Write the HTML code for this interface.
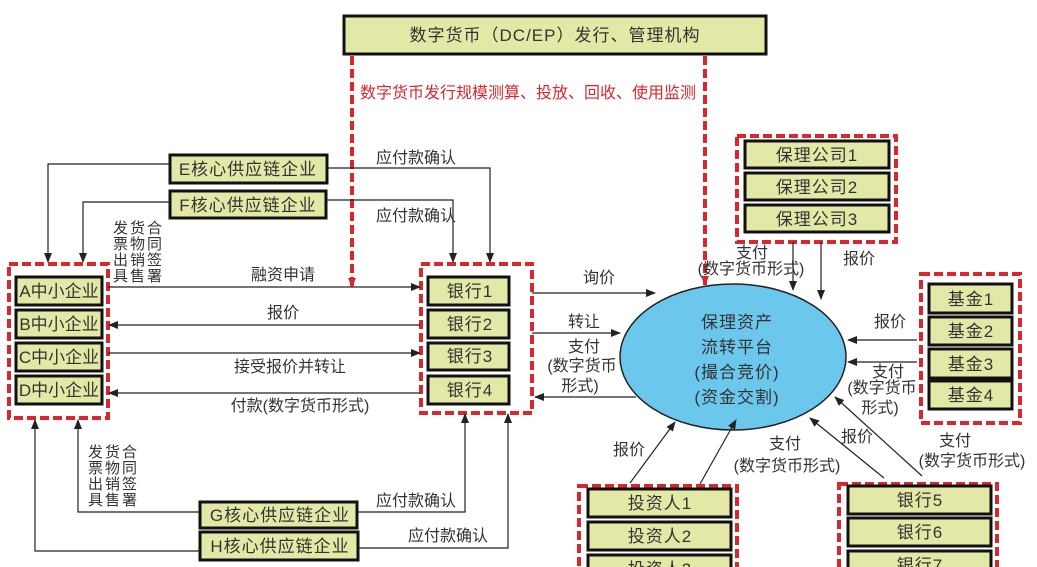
<!DOCTYPE html>
<html><head><meta charset="utf-8"><style>
html,body{margin:0;padding:0;background:#fff;}
svg{display:block;}
text{font-family:"Liberation Sans","Noto Sans CJK SC",sans-serif;font-size:16px;fill:#333;}
.t{font-size:17px;letter-spacing:1px;}
.s{font-size:17px;letter-spacing:0px;}
.v{font-size:15px;letter-spacing:2px;}
.b{fill:#e4e8a6;stroke:#111;stroke-width:3;}
.g{fill:none;stroke:#d8282e;stroke-width:4;stroke-dasharray:9 4;}
.l{fill:none;stroke:#222;stroke-width:1.2;}
</style></head><body>
<svg width="1037" height="567" viewBox="0 0 1037 567" xmlns="http://www.w3.org/2000/svg">
<defs>
<marker id="a" markerWidth="10" markerHeight="8" refX="9" refY="4" orient="auto" markerUnits="userSpaceOnUse"><path d="M0,0 L10,4 L0,8 z" fill="#222"/></marker>
<marker id="r" markerWidth="10" markerHeight="8" refX="9" refY="4" orient="auto" markerUnits="userSpaceOnUse"><path d="M0,0 L10,4 L0,8 z" fill="#d8282e"/></marker>
</defs>

<rect class="b" x="344" y="16" width="422" height="38"/>
<text x="555" y="41" text-anchor="middle" class="t">数字货币（DC/EP）发行、管理机构</text>
<line x1="352" y1="56" x2="352" y2="287" class="g" marker-end="url(#r)"/>
<line x1="705" y1="56" x2="705" y2="285" class="g" marker-end="url(#r)"/>
<rect x="358" y="80" width="342" height="22" fill="#fff"/>
<text x="528" y="98" text-anchor="middle" style="fill:#d8282e" font-size="16">数字货币发行规模测算、投放、回收、使用监测</text>

<rect class="b" x="170" y="155" width="157" height="28"/>
<text x="248" y="175" text-anchor="middle" class="t">E核心供应链企业</text>
<rect class="b" x="170" y="191" width="156" height="27"/>
<text x="248" y="211" text-anchor="middle" class="t">F核心供应链企业</text>
<polyline class="l" points="170,164 48,164 48,262" marker-end="url(#a)"/>
<polyline class="l" points="170,202 83,202 83,262" marker-end="url(#a)"/>
<polyline class="l" points="327,168 490,168 490,262" marker-end="url(#a)"/>
<polyline class="l" points="326,200 453,200 453,262" marker-end="url(#a)"/>
<text x="416" y="163" text-anchor="middle">应付款确认</text>
<text x="416" y="221" text-anchor="middle">应付款确认</text>
<text x="113" y="233" class="v">发货合</text>
<text x="113" y="249" class="v">票物同</text>
<text x="113" y="265" class="v">出销签</text>
<text x="113" y="281" class="v">具售署</text>

<rect class="g" x="9" y="264" width="99" height="154"/>
<rect class="b" x="16" y="277" width="86" height="28"/><text x="59" y="297" text-anchor="middle" class="s">A中小企业</text>
<rect class="b" x="16" y="310" width="86" height="28"/><text x="59" y="330" text-anchor="middle" class="s">B中小企业</text>
<rect class="b" x="16" y="343" width="86" height="28"/><text x="59" y="363" text-anchor="middle" class="s">C中小企业</text>
<rect class="b" x="16" y="376" width="86" height="28"/><text x="59" y="396" text-anchor="middle" class="s">D中小企业</text>

<rect class="g" x="421" y="264" width="111" height="149"/>
<rect class="b" x="428" y="277" width="81" height="28"/><text x="470" y="297" text-anchor="middle" class="t">银行1</text>
<rect class="b" x="428" y="310" width="81" height="28"/><text x="470" y="330" text-anchor="middle" class="t">银行2</text>
<rect class="b" x="428" y="343" width="81" height="27"/><text x="470" y="362" text-anchor="middle" class="t">银行3</text>
<rect class="b" x="428" y="376" width="81" height="28"/><text x="470" y="396" text-anchor="middle" class="t">银行4</text>

<line class="l" x1="108" y1="287" x2="420" y2="287" marker-end="url(#a)"/>
<text x="283" y="280" text-anchor="middle">融资申请</text>
<line class="l" x1="420" y1="325" x2="109" y2="325" marker-end="url(#a)"/>
<text x="283" y="318" text-anchor="middle">报价</text>
<line class="l" x1="108" y1="353" x2="420" y2="353" marker-end="url(#a)"/>
<text x="290" y="372" text-anchor="middle">接受报价并转让</text>
<line class="l" x1="420" y1="393" x2="109" y2="393" marker-end="url(#a)"/>
<text x="300" y="411" text-anchor="middle">付款(数字货币形式)</text>

<rect class="b" x="200" y="502" width="157" height="26"/>
<text x="280" y="521" text-anchor="middle" class="t">G核心供应链企业</text>
<rect class="b" x="200" y="532" width="158" height="28"/>
<text x="280" y="552" text-anchor="middle" class="t">H核心供应链企业</text>
<polyline class="l" points="200,512 78,512 78,420" marker-end="url(#a)"/>
<polyline class="l" points="200,551 35,551 35,420" marker-end="url(#a)"/>
<polyline class="l" points="357,512 465,512 465,414" marker-end="url(#a)"/>
<polyline class="l" points="358,548 508,548 508,414" marker-end="url(#a)"/>
<text x="416" y="506" text-anchor="middle">应付款确认</text>
<text x="448" y="541" text-anchor="middle">应付款确认</text>
<text x="88" y="457" class="v">发货合</text>
<text x="88" y="473" class="v">票物同</text>
<text x="88" y="489" class="v">出销签</text>
<text x="88" y="505" class="v">具售署</text>

<ellipse cx="733" cy="357" rx="113" ry="73" fill="#6cc7ec" stroke="#222" stroke-width="1.5"/>
<text x="737" y="328" text-anchor="middle" class="t">保理资产</text>
<text x="737" y="353" text-anchor="middle" class="t">流转平台</text>
<text x="737" y="378" text-anchor="middle" class="t">(撮合竞价)</text>
<text x="737" y="403" text-anchor="middle" class="t">(资金交割)</text>

<line class="l" x1="532" y1="293" x2="655" y2="293" marker-end="url(#a)"/>
<text x="599" y="283" text-anchor="middle">询价</text>
<line class="l" x1="532" y1="333" x2="620" y2="333" marker-end="url(#a)"/>
<text x="584" y="327" text-anchor="middle">转让</text>
<text x="584" y="352" text-anchor="middle">支付</text>
<text x="582" y="371" text-anchor="middle">(数字货币</text>
<text x="580" y="391" text-anchor="middle">形式)</text>
<line class="l" x1="636" y1="397" x2="535" y2="397" marker-end="url(#a)"/>

<rect class="g" x="737" y="136" width="159" height="106"/>
<rect class="b" x="745" y="141" width="144" height="27"/><text x="817" y="161" text-anchor="middle" class="t">保理公司1</text>
<rect class="b" x="745" y="173" width="144" height="27"/><text x="817" y="193" text-anchor="middle" class="t">保理公司2</text>
<rect class="b" x="745" y="205" width="144" height="27"/><text x="817" y="225" text-anchor="middle" class="t">保理公司3</text>
<line class="l" x1="793" y1="242" x2="793" y2="290" marker-end="url(#a)"/>
<line class="l" x1="821" y1="242" x2="821" y2="299" marker-end="url(#a)"/>
<text x="752" y="258" text-anchor="middle">支付</text>
<text x="751" y="274" text-anchor="middle">(数字货币形式)</text>
<text x="859" y="264" text-anchor="middle">报价</text>

<rect class="g" x="921" y="274" width="99" height="149"/>
<rect class="b" x="929" y="284" width="83" height="29"/><text x="971" y="305" text-anchor="middle" class="t">基金1</text>
<rect class="b" x="929" y="317" width="83" height="28"/><text x="971" y="337" text-anchor="middle" class="t">基金2</text>
<rect class="b" x="929" y="349" width="83" height="29"/><text x="971" y="370" text-anchor="middle" class="t">基金3</text>
<rect class="b" x="929" y="381" width="83" height="28"/><text x="971" y="401" text-anchor="middle" class="t">基金4</text>
<line class="l" x1="917" y1="340" x2="848" y2="340" marker-end="url(#a)"/>
<line class="l" x1="917" y1="362" x2="848" y2="362" marker-end="url(#a)"/>
<text x="890" y="327" text-anchor="middle">报价</text>
<text x="888" y="377" text-anchor="middle">支付</text>
<text x="882" y="393" text-anchor="middle">(数字货币</text>
<text x="880" y="413" text-anchor="middle">形式)</text>

<rect class="g" x="579" y="486" width="158" height="90"/>
<rect class="b" x="588" y="489" width="143" height="28"/><text x="660" y="509" text-anchor="middle" class="t">投资人1</text>
<rect class="b" x="588" y="522" width="143" height="28"/><text x="660" y="542" text-anchor="middle" class="t">投资人2</text>
<rect class="b" x="588" y="555" width="143" height="28"/><text x="660" y="575" text-anchor="middle" class="t">投资人3</text>
<line class="l" x1="630" y1="483" x2="675" y2="422" marker-end="url(#a)"/>
<line class="l" x1="700" y1="484" x2="736" y2="420" marker-end="url(#a)"/>
<text x="629" y="455" text-anchor="middle">报价</text>
<text x="785" y="449" text-anchor="middle">支付</text>
<text x="787" y="471" text-anchor="middle">(数字货币形式)</text>

<rect class="g" x="839" y="484" width="158" height="92"/>
<rect class="b" x="848" y="486" width="143" height="28"/><text x="920" y="506" text-anchor="middle" class="t">银行5</text>
<rect class="b" x="848" y="518" width="143" height="28"/><text x="920" y="538" text-anchor="middle" class="t">银行6</text>
<rect class="b" x="848" y="551" width="143" height="28"/><text x="920" y="571" text-anchor="middle" class="t">银行7</text>
<line class="l" x1="884" y1="478" x2="810" y2="418" marker-end="url(#a)"/>
<line class="l" x1="922" y1="476" x2="835" y2="397" marker-end="url(#a)"/>
<text x="857" y="442" text-anchor="middle">报价</text>
<text x="955" y="446" text-anchor="middle">支付</text>
<text x="972" y="466" text-anchor="middle">(数字货币形式)</text>
</svg>
</body></html>
